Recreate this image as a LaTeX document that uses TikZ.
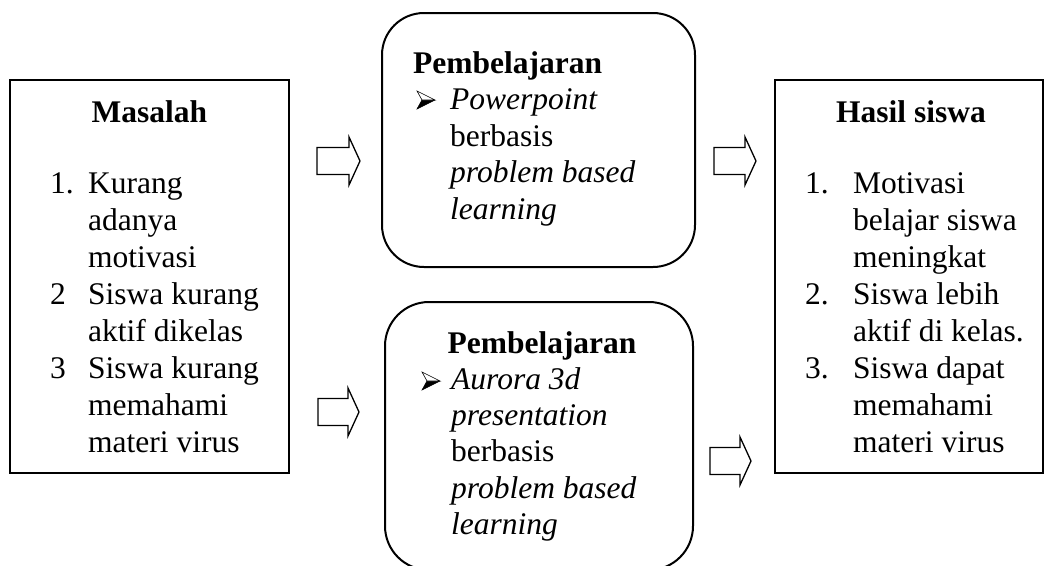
\documentclass[tikz,border=0pt]{standalone}
\usepackage{fontspec}
\setmainfont{Liberation Serif}
\begin{document}
\begin{tikzpicture}[x=1pt,y=1pt,
  txt/.style={anchor=base west, inner sep=0pt, font=\fontsize{31.5}{36.8}\selectfont},
  itxt/.style={txt, font=\fontsize{31.5}{36.8}\selectfont\itshape},
  hd/.style={anchor=base, inner sep=0pt, font=\fontsize{31.5}{36.8}\selectfont\bfseries},
  sqbox/.style={draw, line width=2pt, inner sep=0pt},
  rbox/.style={draw, line width=2pt},
  barrow/.style={draw, line width=1.3pt, fill=white, line join=miter},
  bulletup/.style={draw, line width=0.6pt, fill=white},
  bulletdn/.style={fill=black}]
\useasboundingbox (0,0) rectangle (1046,-565);

% boxes
\node[sqbox, minimum width=279pt, minimum height=393pt] (masalah) at (149.5,-276.5) {};
\draw[rbox, rounded corners=42pt] (382,-13) rectangle (695,-267);
\coordinate (pb1) at (538.5,-140);
\draw[rbox, rounded corners=44pt] (385,-302) rectangle (693,-570);
\coordinate (pb2) at (539,-436);
\node[sqbox, minimum width=268pt, minimum height=393pt] (hasil) at (909,-276.5) {};

% block arrows
\newcommand{\blockarrow}[4]{% x0, xh, xt, cy
  \draw[barrow] (#1,#4-13.5) -- (#2,#4-13.5) -- (#2,#4-24) -- (#3,#4)
    -- (#2,#4+24) -- (#2,#4+13.5) -- (#1,#4+13.5) -- cycle;}
\blockarrow{317}{349}{360}{-161}
\blockarrow{714}{745}{756}{-161}
\blockarrow{318}{348}{359}{-412}
\blockarrow{710}{740}{751}{-461}

% bullets
\newcommand{\arrbullet}[2]{% left x, centre y
  \fill[bulletdn] (#1+5,#2) -- (#1+18,#2) -- (#1,#2-9) -- cycle;
  \draw[bulletup] (#1+5,#2) -- (#1+18,#2) -- (#1,#2+9) -- cycle;
  \draw[line width=0.6pt] (#1+18,#2) -- (#1,#2-9) -- (#1+5,#2);}
\arrbullet{417}{-100}
\arrbullet{422}{-381}

% Masalah
\node[hd] (mh) at (149.5,-122) {Masalah};
\node[txt] (mn1) at (50,-193) {1.};
\node[txt] (mn2) at (50,-304) {2};
\node[txt] (mn3) at (50,-378) {3};
\node[txt] (ml1) at (88,-193) {Kurang};
\node[txt] (ml2) at (88,-230) {adanya};
\node[txt] (ml3) at (88,-267) {motivasi};
\node[txt] (ml4) at (88,-304) {Siswa kurang};
\node[txt] (ml5) at (88,-341) {aktif dikelas};
\node[txt] (ml6) at (88,-378) {Siswa kurang};
\node[txt] (ml7) at (88,-415) {memahami};
\node[txt] (ml8) at (88,-452) {materi virus};

% Pembelajaran 1
\node[txt, font=\fontsize{31.5}{36.8}\selectfont\bfseries] (p1h) at (413,-73) {Pembelajaran};
\node[itxt] (p1a) at (450,-109.5) {Powerpoint};
\node[txt] (p1b) at (450,-146) {berbasis};
\node[itxt] (p1c) at (450,-182.5) {problem based};
\node[itxt] (p1d) at (450,-219) {learning};

% Pembelajaran 2
\node[hd] (p2h) at (542,-353) {Pembelajaran};
\node[itxt] (p2a) at (451,-389) {Aurora 3d};
\node[itxt] (p2b) at (451,-425) {presentation};
\node[txt] (p2c) at (451,-461.5) {berbasis};
\node[itxt] (p2d) at (451,-498) {problem based};
\node[itxt] (p2e) at (451,-534) {learning};

% Hasil siswa
\node[hd] (hh) at (911,-122) {Hasil siswa};
\node[txt] (hn1) at (805,-193) {1.};
\node[txt] (hn2) at (805,-304) {2.};
\node[txt] (hn3) at (805,-378) {3.};
\node[txt] (hl1) at (853,-193) {Motivasi};
\node[txt] (hl2) at (853,-230) {belajar siswa};
\node[txt] (hl3) at (853,-267) {meningkat};
\node[txt] (hl4) at (853,-304) {Siswa lebih};
\node[txt] (hl5) at (853,-341) {aktif di kelas.};
\node[txt] (hl6) at (853,-378) {Siswa dapat};
\node[txt] (hl7) at (853,-415) {memahami};
\node[txt] (hl8) at (853,-452) {materi virus};
\end{tikzpicture}
\end{document}
